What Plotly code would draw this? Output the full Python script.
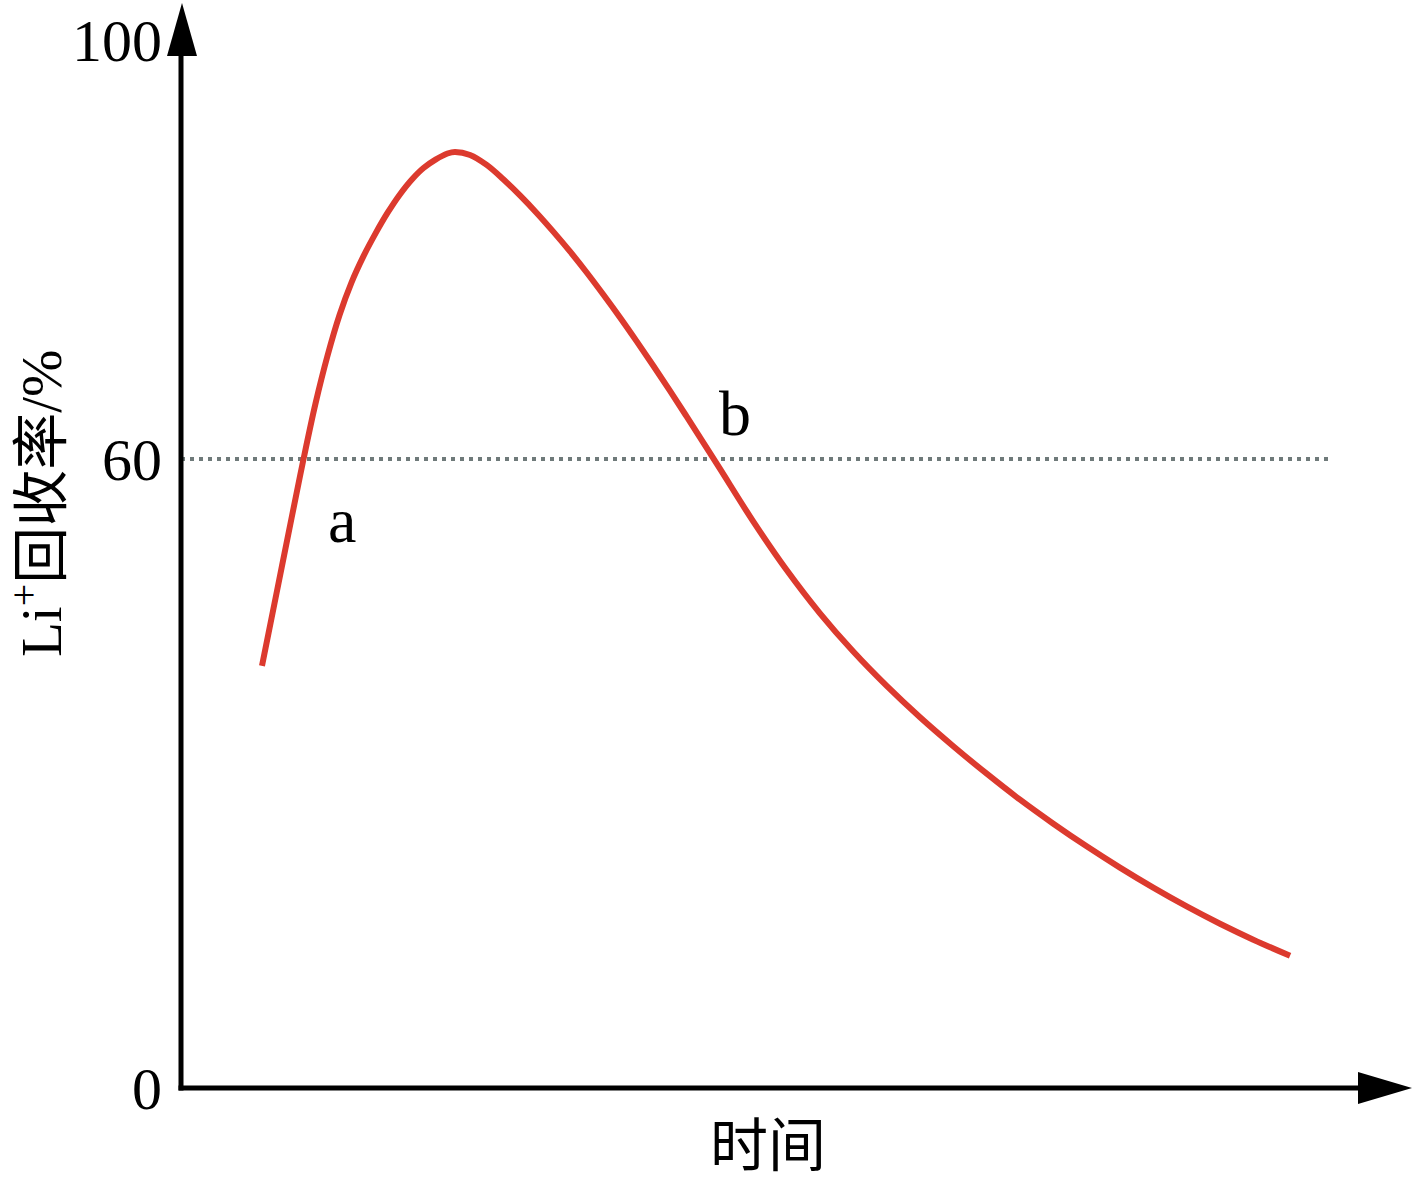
import plotly.graph_objects as go

# ---- data (schematic values) ----
time_vals = [6.59, 7.81, 9.03, 9.97, 10.94, 11.92, 12.90, 13.87, 14.85, 15.83, 16.80,
             17.78, 18.75, 19.73, 20.71, 21.68, 22.29, 23.52, 24.87, 26.20, 27.58,
             28.94, 30.29, 31.65, 33.01, 34.36, 35.72, 37.08, 38.43, 39.79, 41.15,
             42.50, 43.86, 46.57, 49.28, 51.99, 54.70, 57.42, 60.13, 62.84, 65.56,
             68.27, 70.98, 73.69, 76.40, 79.11, 81.83, 84.54, 87.25, 90.24]
recovery = [40.26, 47.41, 54.56, 60.00, 65.27, 69.85, 73.74, 76.83, 79.35, 81.52, 83.47,
            85.19, 86.62, 87.76, 88.56, 89.14, 89.29, 89.00, 88.05, 86.71, 85.14,
            83.47, 81.69, 79.80, 77.79, 75.69, 73.50, 71.22, 68.89, 66.49, 64.04,
            61.56, 59.05, 54.03, 49.41, 45.28, 41.63, 38.35, 35.36, 32.60, 29.98,
            27.50, 25.21, 23.05, 21.02, 19.11, 17.32, 15.67, 14.15, 12.61]
threshold = 60
threshold_end = 93.5
y_ticks = [0, 60, 100]
y_tick_text = ["0", "60", "100"]
point_labels = ["a", "b"]
point_label_x = [13.1, 45.1]
point_label_y = [54.1, 64.3]

W, H = 1417, 1181
L, R, T, B = 181, 7, 5, 93
pw, ph = W - L - R, H - T - B

SERIF = "Liberation Serif, Times New Roman, Noto Sans CJK SC, serif"

fig = go.Figure()
fig.add_trace(go.Scatter(
    x=time_vals, y=recovery, mode="lines",
    line=dict(color="#dc3a2e", width=6, shape="spline", smoothing=1.0, simplify=False),
    hoverinfo="skip", showlegend=False,
))

# threshold dotted line
fig.add_shape(type="line", xref="x", yref="y", x0=0, x1=threshold_end,
              y0=threshold, y1=threshold,
              line=dict(color="#6f7a7a", width=4, dash="4px,5px"), layer="below")


def px_x(p):
    return (p - L) / pw


def px_y(p):
    return 1 - (p - T) / ph


# axes lines with arrows
fig.add_shape(type="line", xref="paper", yref="paper", x0=0, x1=0,
              y0=-2.5 / ph, y1=px_y(50), line=dict(color="black", width=5))
fig.add_shape(type="line", xref="paper", yref="paper", x0=-2.5 / pw, x1=px_x(1365),
              y0=0, y1=0, line=dict(color="black", width=5))
fig.add_shape(type="path", xref="paper", yref="paper",
              path=f"M {px_x(182)} {px_y(3)} L {px_x(167)} {px_y(56)} L {px_x(197)} {px_y(56)} Z",
              fillcolor="black", line=dict(color="black", width=0))
fig.add_shape(type="path", xref="paper", yref="paper",
              path=f"M {px_x(1412)} {px_y(1088)} L {px_x(1358)} {px_y(1072)} L {px_x(1358)} {px_y(1104)} Z",
              fillcolor="black", line=dict(color="black", width=0))

for t, xx, yy in zip(point_labels, point_label_x, point_label_y):
    fig.add_annotation(x=xx, y=yy, xref="x", yref="y", text=t, showarrow=False,
                       xanchor="center", yanchor="middle",
                       font=dict(family=SERIF, size=64, color="black"))

# axis titles
fig.add_annotation(x=px_x(37), y=px_y(504), xref="paper", yref="paper",
                   text="Li<sup>+</sup>回收率/%", textangle=-90, showarrow=False,
                   xanchor="center", yanchor="middle",
                   font=dict(family=SERIF, size=57, color="black"))
fig.add_annotation(x=px_x(768), y=px_y(1146), xref="paper", yref="paper",
                   text="时间", showarrow=False, xanchor="center", yanchor="middle",
                   font=dict(family=SERIF, size=58, color="black"))

fig.update_xaxes(range=[0, 100], showgrid=False, zeroline=False, showline=False,
                 showticklabels=False, ticks="")
fig.update_yaxes(range=[0, (H - B - T) / ((H - B - 459) / threshold)], showgrid=False,
                 zeroline=False, showline=False, tickvals=y_ticks, ticktext=y_tick_text,
                 ticks="", ticklabelstandoff=18,
                 tickfont=dict(family=SERIF, size=60, color="black"))

fig.update_layout(width=W, height=H, margin=dict(l=L, r=R, t=T, b=B),
                  plot_bgcolor="white", paper_bgcolor="white", showlegend=False)

fig.write_html("out.html", config={"displayModeBar": False},
               post_script="document.body.style.margin='0';document.body.style.overflow='hidden';")
